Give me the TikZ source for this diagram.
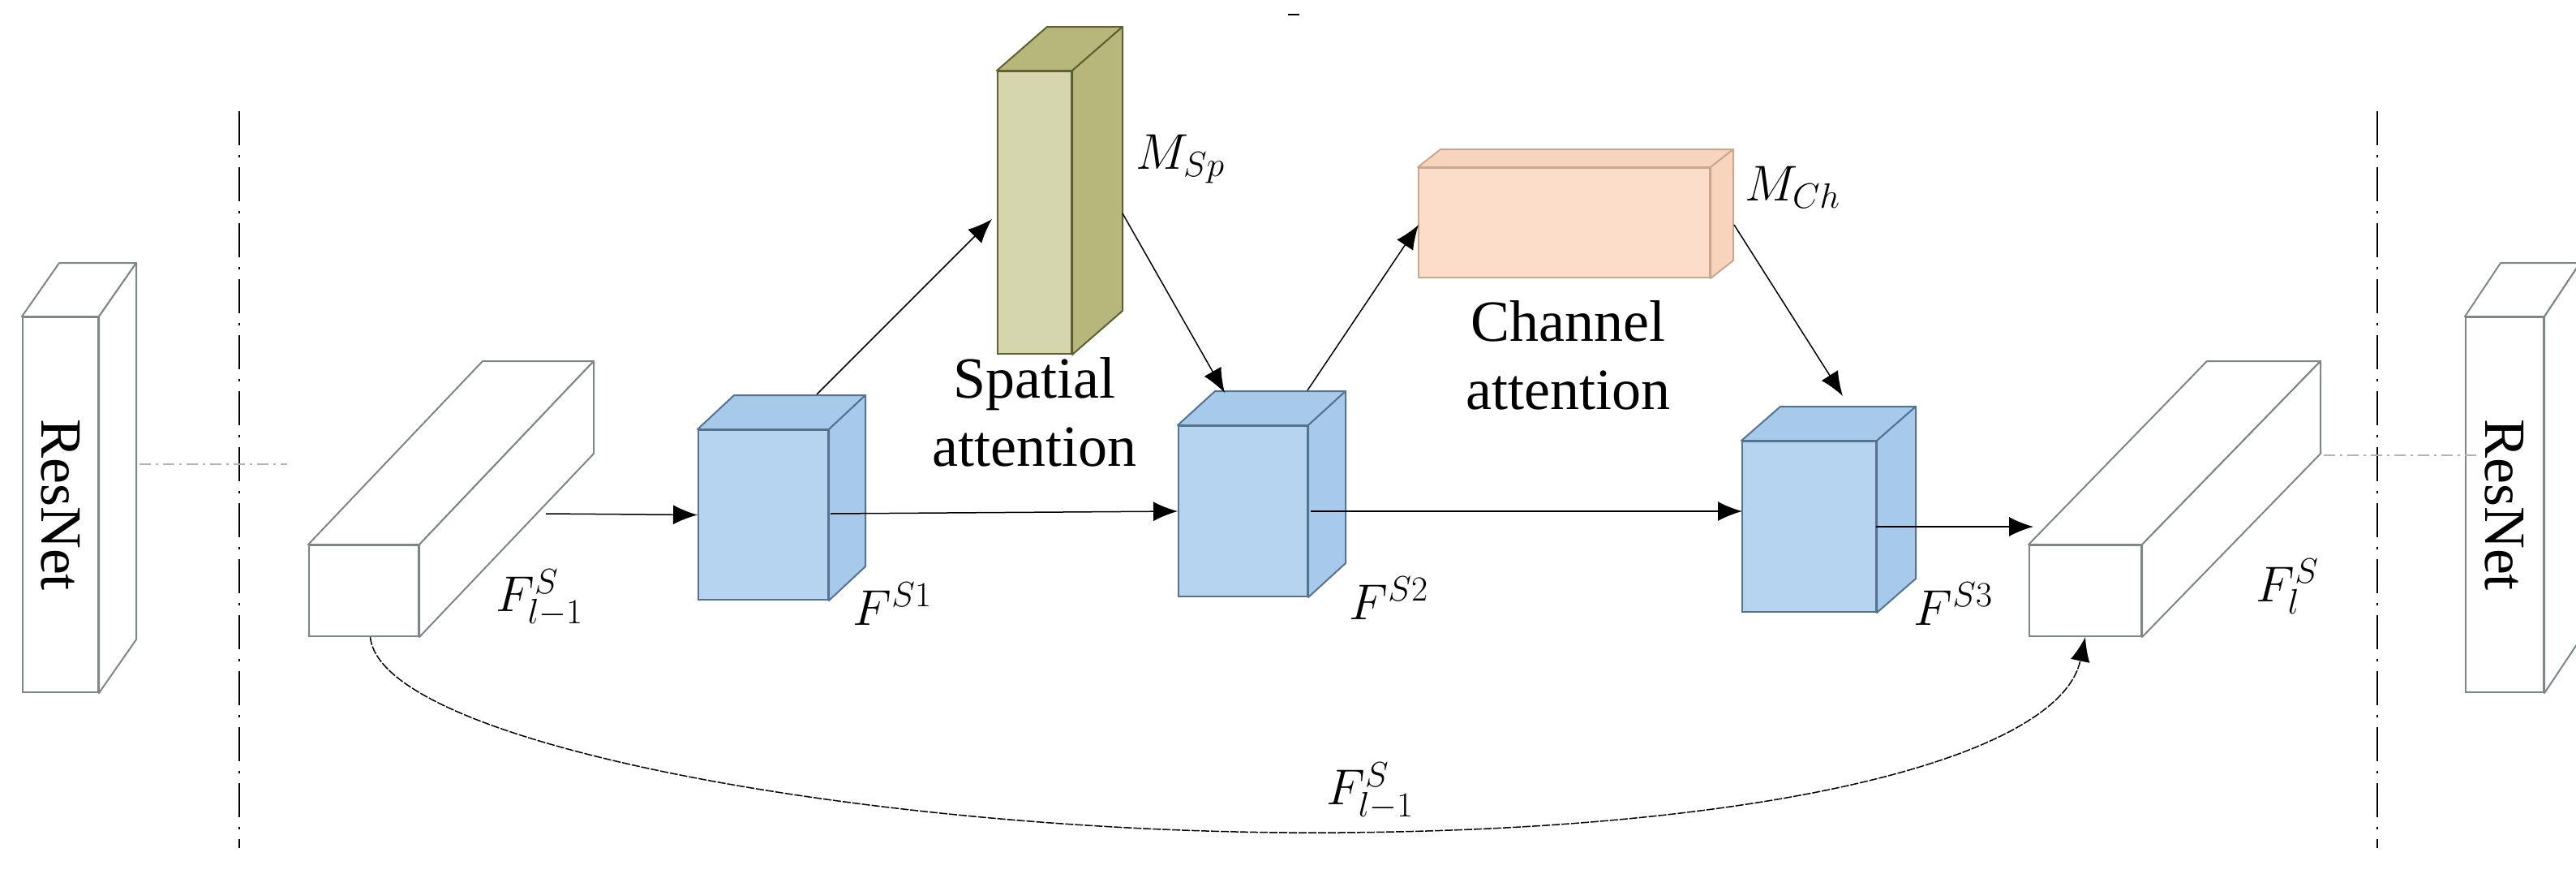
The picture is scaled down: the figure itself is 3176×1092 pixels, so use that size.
\RequirePackage{fix-cm}
\documentclass[tikz,border=0pt]{standalone}
\usepackage{fontspec}
\setmainfont{Liberation Serif}
\usetikzlibrary{calc,fit,arrows.meta}
\definecolor{bfr}{RGB}{182,212,240}
\definecolor{bsd}{RGB}{168,202,234}
\definecolor{bed}{RGB}{85,115,145}
\definecolor{gfr}{RGB}{214,214,174}
\definecolor{gsd}{RGB}{182,183,122}
\definecolor{ged}{RGB}{95,95,50}
\definecolor{ofr}{RGB}{252,221,201}
\definecolor{osd}{RGB}{248,212,188}
\definecolor{oed}{RGB}{200,168,145}
\definecolor{wed}{RGB}{125,135,135}
\newcommand\mycub[9]{%
  \node[inner sep=0pt, draw=#9, line width=2pt, fill=#7, fit={(#2,#3)(#4,#5)}] (#1) {};
  \filldraw[draw=#9, fill=#8, line width=2pt, line join=round]
    (#1.north west) -- ++(#6) -- ($(#1.north east)+(#6)$) -- (#1.north east) -- cycle;
  \filldraw[draw=#9, fill=#8, line width=2pt, line join=round]
    (#1.north east) -- ++(#6) -- ($(#1.south east)+(#6)$) -- (#1.south east) -- cycle;
}
\tikzset{
  arr/.style={line width=1.5pt, -{Latex[length=30pt,width=24pt]}},
  sep/.style={line width=2.5pt, dash pattern=on 42pt off 12pt on 3pt off 12pt},
  hsep/.style={line width=2pt, gray!60, dash pattern=on 14pt off 6pt on 3pt off 6pt},
  lbl/.style={font=\fontsize{62}{72}\selectfont, inner sep=0pt},
  txt/.style={font=\fontsize{72}{84}\selectfont, align=center, inner sep=0pt},
}
\begin{document}
\begin{tikzpicture}[x=1pt,y=-1pt]
\useasboundingbox (0,0) rectangle (3176,1092);
% ResNet boxes
\mycub{r1}{28}{391}{121}{853}{46,-66}{white}{white}{wed}
\node[txt, rotate=-90] (rt1) at (r1.center) {ResNet};
\mycub{r2}{3040}{391}{3136}{853}{44,-66}{white}{white}{wed}
\node[txt, rotate=-90] (rt2) at (r2.center) {ResNet};
% separators
\coordinate (s1a) at (295,137); \coordinate (s1b) at (295,1045);
\coordinate (s2a) at (2931,137); \coordinate (s2b) at (2931,1045);
\draw[sep] (s1a) -- (s1b);
\draw[sep] (s2a) -- (s2b);
\coordinate (h1a) at (172,572); \coordinate (h1b) at (354,572);
\coordinate (h2a) at (2865,561); \coordinate (h2b) at (3058,561);
\draw[hsep] (h1a) -- (h1b);
\draw[hsep] (h2a) -- (h2b);
% feature cuboids
\mycub{c0}{381}{672}{516}{784}{215,-226}{white}{white}{wed}
\mycub{c4}{2502}{672}{2640}{784}{220,-226}{white}{white}{wed}
\mycub{b1}{861}{530}{1021}{739}{45,-42}{bfr}{bsd}{bed}
\mycub{b2}{1453}{525}{1612}{735}{46,-42}{bfr}{bsd}{bed}
\mycub{b3}{2148}{544}{2313}{754}{48,-42}{bfr}{bsd}{bed}
\mycub{g}{1230}{88}{1321}{436}{62,-54}{gfr}{gsd}{ged}
\mycub{o}{1749}{207}{2108}{342}{28,-22}{ofr}{osd}{oed}
% labels
\node[lbl] (l0) at (665,737) {$F_{l-1}^{S}$};
\node[lbl] (l1) at (1100,744) {$F^{S1}$};
\node[lbl] (l2) at (1712,737) {$F^{S2}$};
\node[lbl] (l3) at (2408,744) {$F^{S3}$};
\node[lbl] (l4) at (2820,723) {$F_{l}^{S}$};
\node[lbl] (lg) at (1455,196) {$M_{Sp}$};
\node[lbl] (lo) at (2210,231) {$M_{Ch}$};
\node[lbl] (lc) at (1689,975) {$F_{l-1}^{S}$};
\node[txt] (ts) at (1275,508) {Spatial\\attention};
\node[txt] (tc) at (1933,438) {Channel\\attention};
% connectors
\coordinate (p0) at (673,633);
\draw[arr] (p0) -- (b1.west);
\coordinate (p1) at (1024,633);
\draw[arr] (p1) -- (b2.west);
\coordinate (p2) at (1616,630);
\coordinate (p2e) at (2148,630);
\draw[arr] (p2) -- (p2e);
\coordinate (p3) at (2313,649);
\coordinate (p3e) at (2507,649);
\draw[arr] (p3) -- (p3e);
\coordinate (q1) at (1007,486); \coordinate (q1e) at (1223,270);
\draw[arr] (q1) -- (q1e);
\coordinate (q2) at (1384,263); \coordinate (q2e) at (1510,484);
\draw[arr] (q2) -- (q2e);
\coordinate (q3) at (1612,481); \coordinate (q3e) at (1749,277);
\draw[arr] (q3) -- (q3e);
\coordinate (q4) at (2138,277); \coordinate (q4e) at (2272,488);
\draw[arr] (q4) -- (q4e);
\coordinate (bot) at (1650,1026);
\draw[line width=1.5pt, dash pattern=on 10pt off 2pt, -{Latex[length=30pt,width=24pt]}]
  ([xshift=8pt]c0.south) .. controls (470,920) and (1100,1030) .. (bot)
  .. controls (2200,1022) and (2540,930) .. (c4.south);
% stray mark
\coordinate (m1) at (1588,18); \coordinate (m2) at (1602,18);
\draw[line width=2pt] (m1) -- (m2);
\end{tikzpicture}
\end{document}
